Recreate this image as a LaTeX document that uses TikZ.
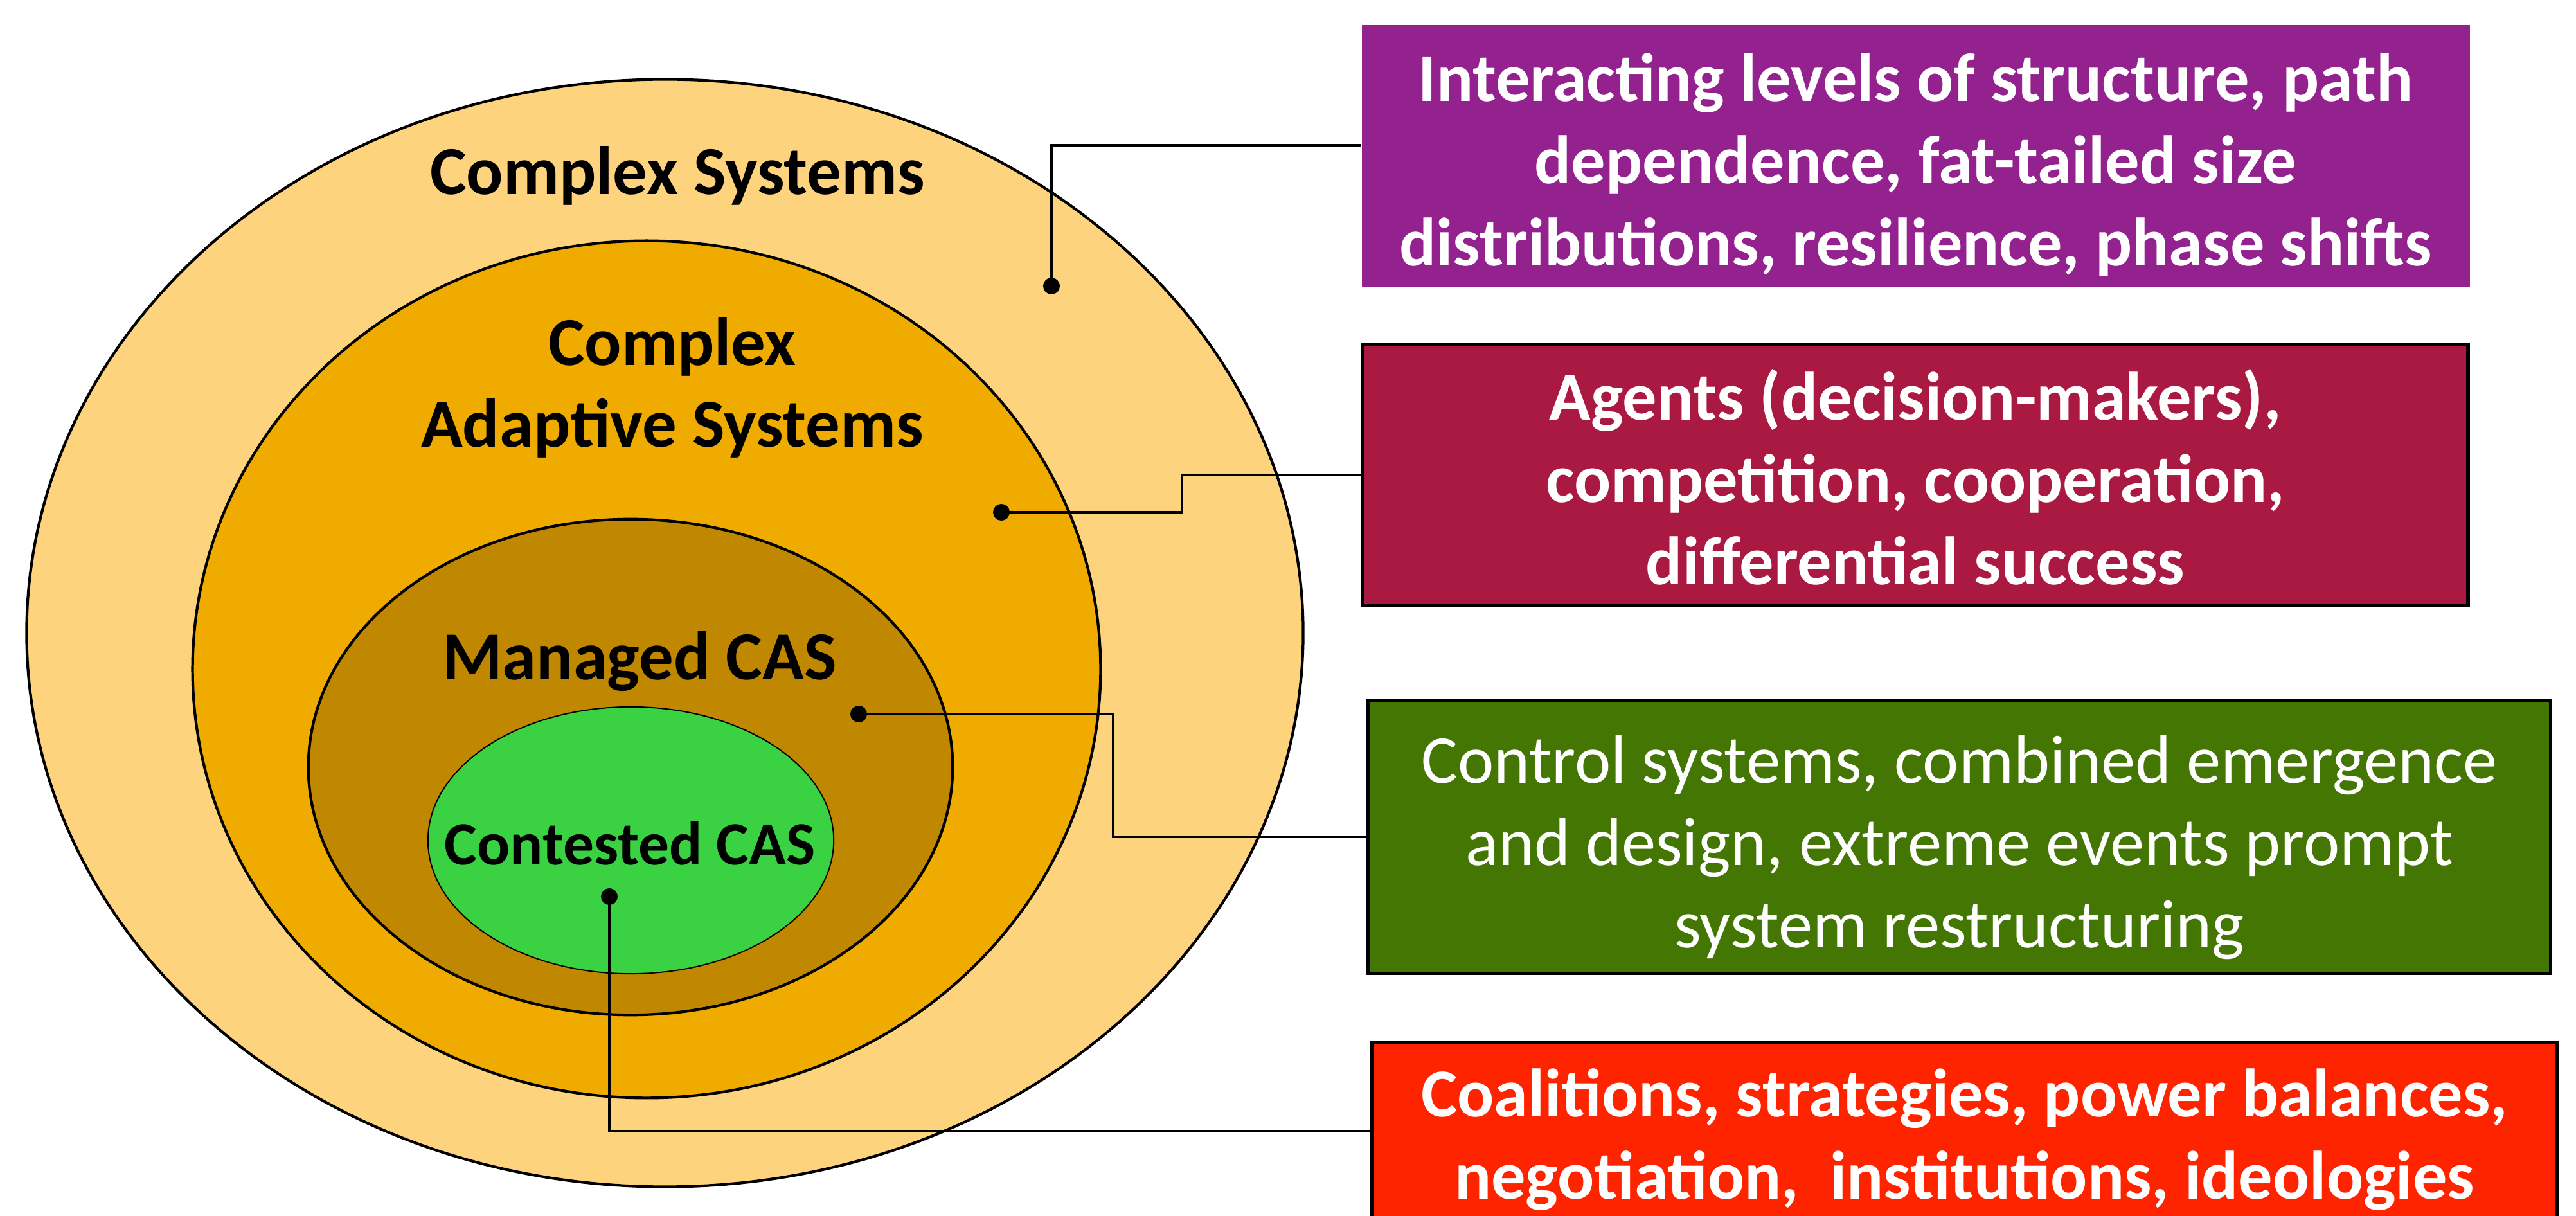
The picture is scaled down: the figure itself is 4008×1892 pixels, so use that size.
\documentclass[tikz,border=0pt]{standalone}
\usepackage{fontspec}
\setmainfont{Carlito}
\usetikzlibrary{shapes.geometric}

\definecolor{cxFill}{HTML}{FDD37D}
\definecolor{casFill}{HTML}{EFAB00}
\definecolor{manFill}{HTML}{C08800}
\definecolor{conFill}{HTML}{3AD143}
\definecolor{boxPurple}{HTML}{93228F}
\definecolor{boxCrimson}{HTML}{AA1942}
\definecolor{boxGreen}{HTML}{437602}
\definecolor{boxRed}{HTML}{FF2400}

\begin{document}
\begin{tikzpicture}[x=0.01cm, y=-0.01cm,
  ring/.style={ellipse, draw=black, line width=1.2pt, inner sep=0pt},
  dot/.style={circle, fill=black, inner sep=0pt, minimum size=0.26cm},
  conn/.style={line width=1.3pt, line join=miter},
  lbl/.style={font=\bfseries\fontsize{30.4}{36}\selectfont, inner sep=0pt, align=center},
  infobox/.style={rectangle, inner sep=0pt, text=white, align=center,
                  font=\fontsize{30.3}{36.4}\selectfont},
  boldbox/.style={infobox, font=\bfseries\fontsize{30.3}{36.4}\selectfont},
  framed/.style={draw=black, line width=1.45pt},
]
\useasboundingbox (0,0) rectangle (4008,1892);
\clip (0,0) rectangle (4008,1892);

% nested system rings
\node[ring, fill=cxFill,  minimum width=19.85cm, minimum height=17.22cm] (e1) at (1034.5,985) {};
\node[ring, fill=casFill, minimum width=14.12cm, minimum height=13.33cm] (e2) at (1006,1041.5) {};
\node[ring, fill=manFill, minimum width=10.02cm, minimum height=7.71cm]  (e3) at (981,1193.5) {};
\node[ring, fill=conFill, line width=0.55pt, minimum width=6.31cm, minimum height=4.15cm] (e4) at (981.5,1307.5) {};

% ring titles
\node[lbl, anchor=base] (t1) at (1054,303) {Complex Systems};
\node[lbl] (t2) at (1046,602) {\rule{0pt}{0.9cm}Complex\\Adaptive Systems\rule[-0.3cm]{0pt}{0.3cm}};
\node[lbl, anchor=base] (t3) at (995,1058) {Managed CAS};
\node[lbl, anchor=base, font=\bfseries\fontsize{27.2}{33}\selectfont] (t4) at (980,1346) {Contested CAS};

% description boxes
\node[boldbox, fill=boxPurple, minimum width=17.23cm, minimum height=4.07cm] (b1) at (2980.5,242.5)
  {\rule{0pt}{1.15cm}Interacting levels of structure, path\\dependence, fat-tailed size\\distributions, resilience, phase shifts\rule[-0.3cm]{0pt}{0.3cm}};
\node[boldbox, framed, fill=boxCrimson, minimum width=17.19cm, minimum height=4.07cm] (b2) at (2980,739)
  {\rule{0pt}{1.14cm}Agents (decision-makers),\\competition, cooperation,\\differential success\rule[-0.3cm]{0pt}{0.3cm}};
\node[infobox, framed, fill=boxGreen, minimum width=18.38cm, minimum height=4.24cm] (b3) at (3048.5,1302.5)
  {\rule{0pt}{1.17cm}Control systems, combined emergence\\and design, extreme events prompt\\system restructuring\rule[-0.3cm]{0pt}{0.3cm}};
\node[boldbox, framed, fill=boxRed, minimum width=18.42cm, minimum height=2.975cm] (b4) at (3056.5,1771.25)
  {\rule{0pt}{0.905cm}Coalitions, strategies, power balances,\\negotiation,~ institutions, ideologies\rule[-0.3cm]{0pt}{0.3cm}};

% anchor dots
\node[dot] (d1) at (1636,445) {};
\node[dot] (d2) at (1558,797) {};
\node[dot] (d3) at (1336,1111) {};
\node[dot] (d4) at (948,1395) {};

% elbow points of the connectors
\coordinate (k2) at (1839,739);
\coordinate (k3) at (1732,1302);

% connectors
\draw[conn] (d1.center) |- (b1.west |- 0,226);
\draw[conn] (d2.center) -| (k2) -- (b2.west);
\draw[conn] (d3.center) -| (k3) -- (b3.west |- k3);
\draw[conn] (d4.center) |- (b4.west |- 0,1760);
\end{tikzpicture}
\end{document}
